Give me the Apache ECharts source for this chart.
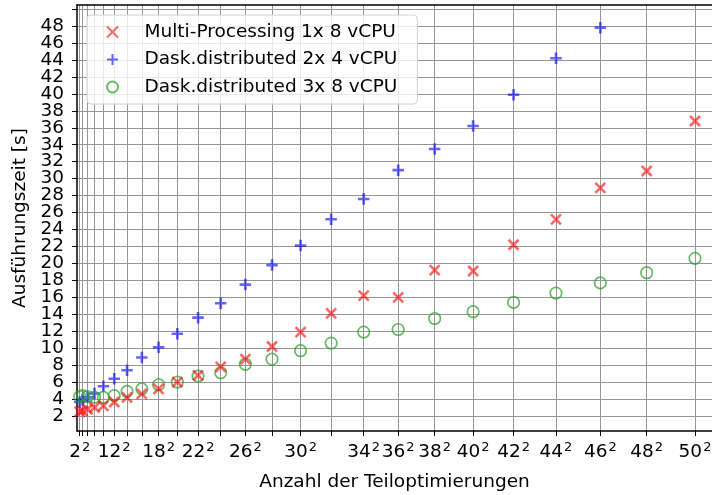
<!DOCTYPE html>
<html>
<head>
<meta charset="utf-8">
<script src="https://cdn.jsdelivr.net/npm/echarts@6/dist/echarts.min.js"></script>
<style>
html,body{margin:0;padding:0;background:#fff;}
#chart{width:712px;height:495px;}
</style>
</head>
<body>
<div id="chart"></div>
<script>
// n (number of sub-optimisations = n^2)
const nValues = [2,4,6,8,10,12,14,16,18,20,22,24,26,28,30,32,34,36,38,40,42,44,46,48,50];
const multiProcessing = [2.5,2.6,2.8,3.0,3.2,3.65,4.2,4.6,5.2,6.0,6.8,7.8,8.7,10.2,11.9,14.1,16.2,16.0,19.2,19.1,22.2,25.2,28.9,30.9,36.8];
const dask2x4 = [3.65,3.9,4.2,4.65,5.5,6.4,7.4,8.9,10.1,11.7,13.6,15.3,17.5,19.8,22.1,25.2,27.6,31.0,33.5,36.2,39.9,44.2,47.8];
const dask3x8 = [4.3,4.4,4.3,4.2,4.2,4.4,4.9,5.2,5.7,6.0,6.7,7.1,8.1,8.7,9.7,10.6,11.9,12.2,13.5,14.3,15.4,16.5,17.7,18.9,20.6];
const xLabelN = [2,12,18,22,26,30,34,36,38,40,42,44,46,48,50];
const yTicks = [2,4,6,8,10,12,14,16,18,20,22,24,26,28,30,32,34,36,38,40,42,44,46,48,50];
const yLabels = [2,4,6,8,10,12,14,16,18,20,22,24,26,28,30,32,34,36,38,40,42,44,46,48];
const seriesNames = ['Multi-Processing 1x 8 vCPU','Dask.distributed 2x 4 vCPU','Dask.distributed 3x 8 vCPU'];

const FONT = 'DejaVu Sans';
const FS = 18.5;
const Y_MIN = 0.23, Y_MAX = 50.48, X_MIN = -7, X_MAX = 2569;
const pts = (arr) => arr.map((v, i) => [nValues[i] * nValues[i], v]);
const crossPath = 'path://M0,0L10,10M10,0L0,10';
const plusPath = 'path://M5,0L5,10M0,5L10,5';
// split the y labels over two overlapping axes so that none is auto-hidden
const yLabelsA = yLabels.filter((v, i) => i % 2 === 0);
const yLabelsB = yLabels.filter((v, i) => i % 2 === 1);

const chart = echarts.init(document.getElementById('chart'), null, {renderer: 'canvas'});
const yLabelStyle = (vals) => ({customValues: vals, margin: 13, fontFamily: FONT, fontSize: FS,
  color: '#000', showMinLabel: true, showMaxLabel: true});
const option = {
  animation: false,
  backgroundColor: '#fff',
  grid: {left: 77, top: 5, right: 0, bottom: 64, outerBoundsMode: 'none'},
  legend: {
    data: seriesNames,
    orient: 'vertical',
    left: 87, top: 15,
    padding: [7, 20, 7, 19],
    itemGap: 7.5,
    itemWidth: 20, itemHeight: 11,
    backgroundColor: 'rgba(255,255,255,0.8)',
    borderColor: '#d0d0d0', borderWidth: 1, borderRadius: 4,
    textStyle: {fontFamily: FONT, fontSize: FS, color: '#000', lineHeight: 20, padding: [0,0,0,17]}
  },
  xAxis: [{
    type: 'value', min: X_MIN, max: X_MAX,
    axisLine: {show: true, onZero: false, lineStyle: {color: '#000', width: 1.5}},
    axisTick: {show: true, length: 5, customValues: nValues.map(n => n*n), lineStyle: {color: '#000', width: 1}},
    axisLabel: {
      customValues: xLabelN.map(n => n*n), margin: 10.5,
      showMinLabel: true, showMaxLabel: true,
      formatter: (v) => '{a|' + Math.round(Math.sqrt(v)) + '}{s|2}',
      rich: {
        a: {fontFamily: FONT, fontSize: FS, color: '#000', lineHeight: 21},
        s: {fontFamily: FONT, fontSize: 13, color: '#000', verticalAlign: 'top', lineHeight: 10, padding: [0,0,0,1]}
      }
    },
    splitLine: {show: true, lineStyle: {color: '#959595', width: 1}},
    name: 'Anzahl der Teiloptimierungen', nameLocation: 'middle', nameGap: 42,
    nameTextStyle: {fontFamily: FONT, fontSize: FS, color: '#000'}
  }, {
    type: 'value', position: 'top', min: X_MIN, max: X_MAX,
    axisLine: {show: true, onZero: false, lineStyle: {color: '#000', width: 1.5}},
    axisTick: {show: false}, axisLabel: {show: false}, splitLine: {show: false}
  }],
  yAxis: [{
    type: 'value', min: Y_MIN, max: Y_MAX, position: 'left',
    axisLine: {show: true, onZero: false, lineStyle: {color: '#000', width: 1.5}},
    axisTick: {show: true, length: 5, customValues: yTicks, lineStyle: {color: '#000', width: 1}},
    axisLabel: yLabelStyle(yLabelsA),
    splitLine: {show: true, lineStyle: {color: '#959595', width: 1}},
    name: 'Ausführungszeit [s]', nameLocation: 'middle', nameGap: 44, nameRotate: 90,
    nameTextStyle: {fontFamily: FONT, fontSize: FS, color: '#000'}
  }, {
    type: 'value', min: Y_MIN, max: Y_MAX, position: 'left', offset: 0,
    axisLine: {show: false}, axisTick: {show: false}, splitLine: {show: false},
    axisLabel: yLabelStyle(yLabelsB)
  }],
  series: [
    {
      name: seriesNames[1], type: 'scatter', data: pts(dask2x4),
      symbol: plusPath, symbolSize: 11.5, z: 2,
      itemStyle: {color: 'rgba(0,0,255,0)', borderColor: 'rgba(0,0,255,0.75)', borderWidth: 2.6}
    },
    {
      name: seriesNames[2], type: 'scatter', data: pts(dask3x8),
      symbol: 'circle', symbolSize: 11.5, z: 3,
      itemStyle: {color: 'rgba(44,160,44,0)', borderColor: 'rgba(44,160,44,0.9)', borderWidth: 1.7}
    },
    {
      name: seriesNames[0], type: 'scatter', data: pts(multiProcessing),
      symbol: crossPath, symbolSize: 10, z: 4,
      itemStyle: {color: 'rgba(255,0,0,0)', borderColor: 'rgba(255,0,0,0.75)', borderWidth: 2.6}
    }
  ]
};
chart.setOption(option);
</script>
</body>
</html>
